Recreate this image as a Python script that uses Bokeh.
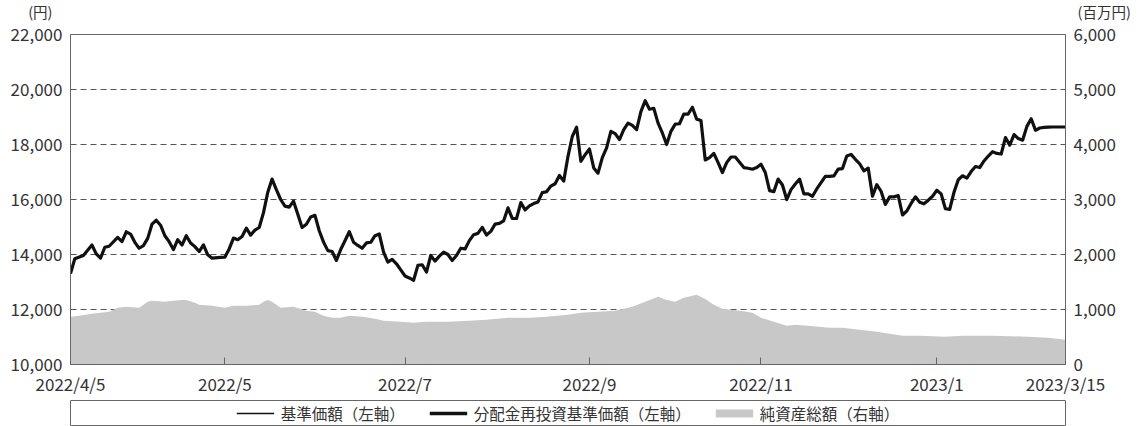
from bokeh.plotting import figure
from bokeh.models import (Range1d, LinearAxis, FixedTicker, NumeralTickFormatter,
                          Legend, LegendItem)
from bokeh.layouts import column
from bokeh.embed import file_html
from bokeh.resources import INLINE

FONT = "Noto Sans CJK JP"

# ---- axes / ticks ----
x_ticks = [0, 36, 78, 121, 161, 202, 232]
x_tick_labels = ["2022/4/5", "2022/5", "2022/7", "2022/9", "2022/11", "2023/1", "2023/3/15"]
left_ticks = [10000, 12000, 14000, 16000, 18000, 20000, 22000]
right_ticks = [0, 1000, 2000, 3000, 4000, 5000, 6000]
left_unit = "(円)"
right_unit = "(百万円)"

# ---- 基準価額 (business-day index, yen) ----
nav_day = [0, 1, 3, 5, 6, 7, 8, 9, 11, 12, 13, 14, 15, 16, 17, 18, 19, 20, 21, 22,
           23, 24, 25, 26, 27, 28, 29, 30, 31, 32, 33, 35, 36, 37, 38, 39, 40, 41, 42, 43,
           44, 45, 46, 47, 48, 49, 50, 51, 52, 53, 54, 55, 56, 57, 58, 59, 60, 61, 62, 63,
           64, 65, 66, 67, 68, 69, 70, 71, 72, 73, 74, 75, 76, 77, 78, 79, 80, 81, 82, 83,
           84, 85, 86, 87, 88, 89, 90, 91, 92, 93, 94, 95, 96, 97, 98, 99, 100, 101, 102, 103,
           104, 105, 106, 107, 108, 109, 110, 111, 112, 113, 114, 115, 116, 117, 118, 119, 120, 121, 122, 123,
           124, 125, 126, 127, 128, 129, 130, 131, 132, 133, 134, 135, 136, 137, 138, 139, 140, 141, 142, 143,
           144, 145, 146, 147, 148, 149, 150, 151, 152, 153, 154, 155, 157, 158, 159, 160, 161, 162, 163, 164,
           165, 166, 167, 168, 169, 170, 171, 172, 173, 174, 176, 177, 178, 179, 180, 181, 182, 183, 184, 185,
           186, 187, 188, 189, 190, 191, 192, 193, 194, 195, 196, 197, 198, 199, 200, 201, 202, 203, 204, 205,
           206, 207, 208, 209, 210, 211, 212, 213, 214, 215, 216, 217, 218, 219, 220, 221, 222, 223, 224, 225,
           226, 227, 228, 229, 230, 231, 232]
nav_value = [13305, 13844, 13964, 14347, 14023, 13868, 14263, 14300, 14622, 14467, 14826, 14742, 14443, 14227, 14323, 14586, 15102, 15245, 15066, 14682,
             14467, 14179, 14538, 14347, 14682, 14419, 14287, 14107, 14347, 13988, 13868, 13892, 13904, 14203, 14598, 14538, 14658, 14958, 14706, 14886,
             14982, 15521, 16264, 16743, 16359, 16000, 15760, 15724, 15940, 15461, 14982, 15102, 15365, 15425, 14862, 14450, 14140, 14108, 13784, 14180,
             14500, 14829, 14445, 14330, 14228, 14421, 14445, 14685, 14745, 14084, 13724, 13820, 13663, 13440, 13219, 13147, 13062, 13603, 13627, 13363,
             13964, 13760, 13940, 14084, 14000, 13784, 13964, 14228, 14204, 14505, 14721, 14769, 14986, 14709, 14841, 15106, 15130, 15226, 15695, 15310,
             15310, 15887, 15623, 15767, 15851, 15911, 16248, 16284, 16488, 16572, 16873, 16668, 17570, 18291, 18628, 17390, 17630, 17834, 17149, 16958,
             17521, 17880, 18479, 18395, 18180, 18539, 18779, 18695, 18539, 19198, 19593, 19282, 19318, 18779, 18419, 18000, 18479, 18743, 18755, 19102,
             19102, 19354, 18922, 18875, 17437, 17521, 17677, 17341, 16982, 17341, 17545, 17545, 17161, 17137, 17102, 17161, 17281, 16982, 16323, 16287,
             16742, 16527, 15999, 16359, 16562, 16742, 16203, 16203, 16119, 16383, 16838, 16838, 16862, 17102, 17125, 17581, 17641, 17461, 17300, 17042,
             17138, 16120, 16539, 16300, 15820, 16096, 16096, 16144, 15437, 15581, 15856, 16096, 15904, 15844, 15976, 16120, 16335, 16204, 15665, 15641,
             16264, 16719, 16863, 16779, 17018, 17198, 17162, 17402, 17581, 17737, 17677, 17653, 18252, 17977, 18360, 18216, 18156, 18660, 18935, 18516,
             18600, 18620, 18630, 18636, 18636, 18636, 18636]
# 分配金再投資基準価額 (no distributions paid: identical to 基準価額)
reinvest_value = list(nav_value)

# ---- 純資産総額 (million yen) ----
asset_day = [0, 2, 5, 9, 11, 13, 16, 18, 19, 22, 24, 26, 27, 29, 30, 33, 36, 38, 41, 44,
             45, 46, 47, 49, 52, 55, 57, 59, 61, 63, 65, 68, 71, 73, 77, 80, 83, 88, 93, 97,
             102, 107, 111, 116, 119, 123, 127, 131, 134, 137, 139, 141, 143, 146, 148, 150, 152, 156, 159, 161,
             164, 167, 169, 172, 177, 180, 184, 188, 194, 198, 204, 208, 215, 223, 228, 232]
asset_value = [868, 886, 922, 958, 1031, 1049, 1031, 1139, 1157, 1139, 1157, 1175, 1175, 1121, 1085, 1067, 1031, 1067, 1067, 1085,
               1139, 1175, 1139, 1031, 1049, 976, 958, 886, 850, 850, 886, 868, 832, 796, 778, 760, 778, 778, 796, 814,
               850, 850, 868, 904, 940, 958, 976, 1049, 1139, 1230, 1175, 1139, 1212, 1266, 1193, 1085, 1013, 976, 940, 850,
               778, 705, 723, 705, 669, 669, 633, 597, 524, 524, 506, 524, 524, 506, 488, 452]

AX_COLOR = "#666666"
TXT_COLOR = "#333333"
AREA_COLOR = "#c8c8c8"
W = 1138
TOP_H = 21

# ---- unit strip above the chart: unit captions drawn as axis labels ----
top = figure(width=W, height=TOP_H, x_range=Range1d(0, 232), y_range=Range1d(0, 2),
             output_backend="svg", toolbar_location=None,
             x_axis_location=None, y_axis_location=None,
             min_border_left=70, min_border_right=73, min_border_top=0, min_border_bottom=0)
top.grid.visible = False
top.outline_line_color = None
for side, txt, standoff in (("left", left_unit, 12), ("right", right_unit, 6)):
    ua = LinearAxis(ticker=FixedTicker(ticks=[1]), major_label_overrides={1: txt})
    ua.axis_line_color = None
    ua.major_tick_line_color = None
    ua.minor_tick_line_color = None
    ua.major_label_standoff = standoff
    ua.major_label_text_font = FONT
    ua.major_label_text_font_size = "14.5px"
    ua.major_label_text_color = TXT_COLOR
    top.add_layout(ua, side)

# ---- main chart ----
p = figure(width=W, height=398 - TOP_H, x_range=Range1d(0, 232), y_range=Range1d(10000, 22000),
           output_backend="svg", toolbar_location=None,
           min_border_left=70, min_border_right=73, min_border_top=34 - TOP_H, min_border_bottom=32)
p.extra_y_ranges = {"assets": Range1d(0, 6000)}

p.varea(x=asset_day, y1=0, y2=asset_value, y_range_name="assets", fill_color=AREA_COLOR)
p.line(nav_day, reinvest_value, line_width=3.2, line_color="#111111", line_join="round")
p.line(nav_day, nav_value, line_width=1.5, line_color="#111111")

p.xaxis.ticker = FixedTicker(ticks=x_ticks)
p.xaxis.major_label_overrides = {t: l for t, l in zip(x_ticks, x_tick_labels)}
p.xaxis.major_tick_in = 7
p.xaxis.major_tick_out = 0
p.xaxis.minor_tick_line_color = None
p.xaxis.major_label_standoff = 6

p.yaxis.ticker = FixedTicker(ticks=left_ticks)
p.yaxis.formatter = NumeralTickFormatter(format="0,0")
p.yaxis.major_tick_in = 0
p.yaxis.major_tick_out = 0
p.yaxis.minor_tick_line_color = None
p.yaxis.major_label_standoff = 8

ax_r = LinearAxis(y_range_name="assets", ticker=FixedTicker(ticks=right_ticks),
                  formatter=NumeralTickFormatter(format="0,0"))
ax_r.major_tick_in = 0
ax_r.major_tick_out = 0
ax_r.minor_tick_line_color = None
ax_r.major_label_standoff = 8
p.add_layout(ax_r, "right")

for ax in p.xaxis + p.yaxis + [ax_r]:
    ax.axis_line_color = AX_COLOR
    ax.major_tick_line_color = AX_COLOR
    ax.major_label_text_font = FONT
    ax.major_label_text_font_size = "17px"
    ax.major_label_text_color = TXT_COLOR

p.outline_line_color = AX_COLOR
p.xgrid.visible = False
p.ygrid.ticker = FixedTicker(ticks=[12000, 14000, 16000, 18000, 20000])
p.ygrid.grid_line_color = "#555555"
p.ygrid.grid_line_dash = "6 4"
p.ygrid.grid_line_width = 1.2

# ---- legend strip (series drawn outside its visible range, only the legend shows) ----
lg = figure(width=W, height=28, x_range=Range1d(0, 1), y_range=Range1d(0, 1),
            output_backend="svg", toolbar_location=None,
            x_axis_location=None, y_axis_location=None,
            min_border_left=70, min_border_right=73, min_border_top=2, min_border_bottom=0)
lg.grid.visible = False
lg.outline_line_color = AX_COLOR
r1 = lg.line(nav_day, nav_value, line_width=1.5, line_color="#111111")
r2 = lg.line(nav_day, reinvest_value, line_width=3.5, line_color="#111111")
r3 = lg.line(asset_day, asset_value, line_width=8, line_color=AREA_COLOR)
legend = Legend(items=[LegendItem(label="基準価額（左軸）", renderers=[r1]),
                       LegendItem(label="分配金再投資基準価額（左軸）", renderers=[r2]),
                       LegendItem(label="純資産総額（右軸）", renderers=[r3])],
                orientation="horizontal", location="center",
                border_line_alpha=0, background_fill_alpha=0,
                label_text_font=FONT, label_text_font_size="15.5px", label_text_color=TXT_COLOR,
                glyph_width=38, label_standoff=7, spacing=24, padding=0, margin=0)
lg.add_layout(legend, "center")

layout = column(top, p, lg, spacing=0)
open("out.html", "w").write(file_html(layout, INLINE))
